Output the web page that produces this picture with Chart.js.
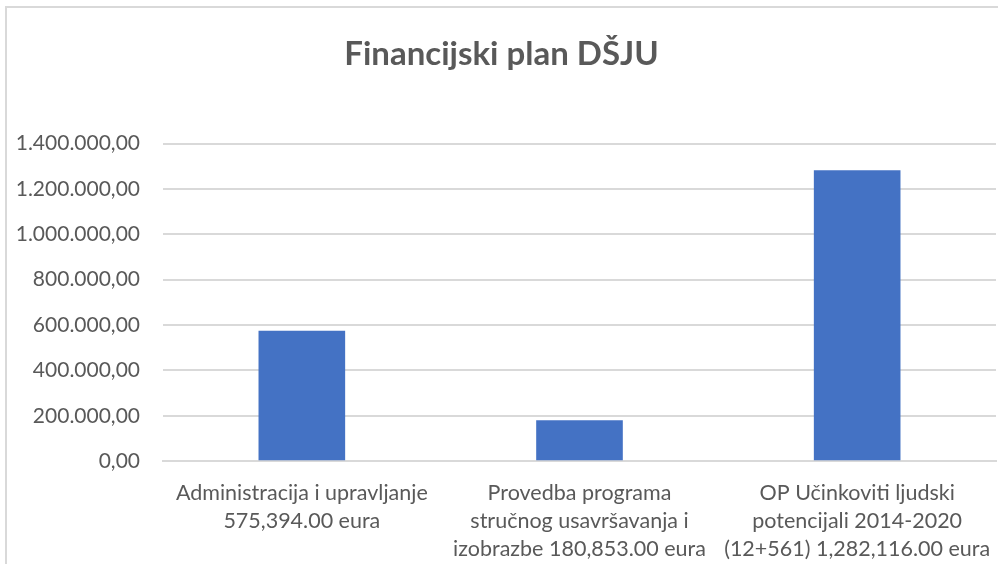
<!DOCTYPE html>
<html>
<head>
<meta charset="utf-8">
<script src="https://cdn.jsdelivr.net/npm/chart.js@4"></script>
<style>
  html, body { margin: 0; padding: 0; background: #fff; overflow: hidden; }
  #frame { position: absolute; left: 0; top: 0; width: 998px; height: 564px; overflow: hidden; }
  #box { position: absolute; left: 5px; top: 6px; width: 1010px; height: 580px; border: 2px solid #d9d9d9; box-sizing: border-box; }
  #box canvas { position: absolute; left: 0; top: 0; }
</style>
</head>
<body>
<div id="frame"><div id="box"><canvas id="c" width="1008" height="565"></canvas></div></div>
<script>
const categories = [
  ['Administracija i upravljanje', '575,394.00 eura'],
  ['Provedba programa', 'stručnog usavršavanja i', 'izobrazbe 180,853.00 eura'],
  ['OP Učinkoviti ljudski', 'potencijali 2014-2020', '(12+561) 1,282,116.00 eura']
];
const amounts = [575394, 180853, 1282116];
const yTicks = [0, 200000, 400000, 600000, 800000, 1000000, 1200000, 1400000];

const fmt = v => {
  const s = Math.round(v).toString().replace(/\B(?=(\d{3})+(?!\d))/g, '.');
  return s + ',00';
};

new Chart(document.getElementById('c'), {
  type: 'bar',
  data: {
    labels: categories,
    datasets: [{
      data: amounts,
      backgroundColor: '#4472c4',
      barPercentage: 0.312,
      categoryPercentage: 1
    }]
  },
  options: {
    responsive: false,
    animation: false,
    layout: { padding: { top: 0, right: 19, bottom: 0, left: 0 } },
    plugins: {
      legend: { display: false },
      tooltip: { enabled: false },
      title: {
        display: true,
        text: 'Financijski plan DŠJU',
        color: '#595959',
        font: { family: 'Lato', size: 33, weight: 'bold' },
        padding: { top: 27, bottom: 69 }
      }
    },
    scales: {
      x: {
        grid: { display: false },
        border: { display: true, color: '#d9d9d9', width: 2 },
        ticks: {
          color: '#595959',
          font: { family: 'Lato', size: 21.5, lineHeight: 1.3 },
          padding: 10,
          maxRotation: 0,
          autoSkip: false
        }
      },
      y: {
        min: 0,
        max: 1400000,
        afterBuildTicks: axis => { axis.ticks = yTicks.map(v => ({ value: v })); },
        afterFit: axis => { axis.width = 156; },
        grid: { color: '#d9d9d9', lineWidth: 2, drawTicks: false },
        border: { display: false },
        ticks: {
          color: '#595959',
          font: { family: 'Lato', size: 21 },
          padding: 23,
          callback: v => fmt(v)
        }
      }
    }
  }
});
</script>
</body>
</html>
